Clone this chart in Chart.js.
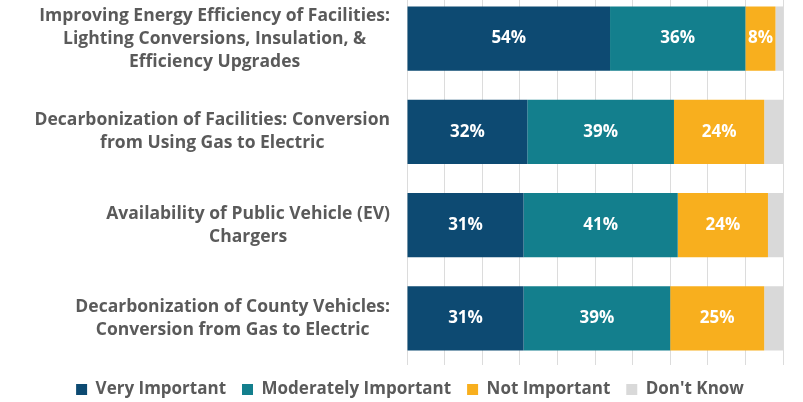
<!DOCTYPE html>
<html>
<head>
<meta charset="utf-8">
<script src="https://cdn.jsdelivr.net/npm/chart.js@4"></script>
<style>
  html, body { margin: 0; padding: 0; background: #fff; }
  #wrap { position: relative; width: 803px; height: 402px; overflow: hidden; }
  #chart { position: absolute; left: 0; top: -8px; }
</style>
</head>
<body>
<div id="wrap"><canvas id="chart" width="803" height="416"></canvas></div>
<script>
const categories = [
  ["Improving Energy Efficiency of Facilities:", "Lighting Conversions, Insulation, &", "Efficiency Upgrades"],
  ["Decarbonization of Facilities: Conversion", "from Using Gas to Electric"],
  ["Availability of Public Vehicle (EV)", "Chargers"],
  ["Decarbonization of County Vehicles:", "Conversion from Gas to Electric"]
];
const veryImportant = [54, 32, 31, 31];
const moderatelyImportant = [36, 39, 41, 39];
const notImportant = [8, 24, 24, 25];
const dontKnow = [2, 5, 4, 5];

const FONT = "'Open Sans', Lato, sans-serif";
const TEXT_GREY = "#5a5a5a";

// category labels: each block centered on itself, right edge 17px left of the plot
const categoryLabels = {
  id: "categoryLabels",
  afterDraw(chart) {
    const ctx = chart.ctx;
    const y = chart.scales.y;
    const lineH = 23;
    ctx.save();
    ctx.font = "bold 17.5px " + FONT;
    ctx.fillStyle = TEXT_GREY;
    ctx.textAlign = "center";
    ctx.textBaseline = "middle";
    categories.forEach((lines, i) => {
      const widest = Math.max(...lines.map(l => ctx.measureText(l).width));
      const cx = chart.chartArea.left - 17 - widest / 2;
      const cy = y.getPixelForValue(i);
      const top = cy - (lines.length - 1) * lineH / 2;
      lines.forEach((l, k) => ctx.fillText(l, cx, top + k * lineH));
    });
    ctx.restore();
  }
};

// white percentage labels inside the segments
const valueLabels = {
  id: "valueLabels",
  afterDatasetsDraw(chart) {
    const ctx = chart.ctx;
    ctx.save();
    ctx.font = "bold 17px " + FONT;
    ctx.fillStyle = "#ffffff";
    ctx.textAlign = "center";
    ctx.textBaseline = "middle";
    chart.data.datasets.forEach((ds, di) => {
      if (di === 3) return;
      chart.getDatasetMeta(di).data.forEach((bar, i) => {
        const p = bar.getProps(["x", "y", "base"], true);
        ctx.fillText(ds.data[i] + "%", (p.x + p.base) / 2, p.y);
      });
    });
    ctx.restore();
  }
};

new Chart(document.getElementById("chart"), {
  type: "bar",
  data: {
    labels: categories,
    datasets: [
      { label: "Very Important", data: veryImportant, backgroundColor: "#0d4a72" },
      { label: "Moderately Important", data: moderatelyImportant, backgroundColor: "#137f8d" },
      { label: "Not Important", data: notImportant, backgroundColor: "#f8af1e" },
      { label: "Don't Know", data: dontKnow, backgroundColor: "#d9d9d9" }
    ]
  },
  options: {
    indexAxis: "y",
    responsive: false,
    animation: false,
    devicePixelRatio: 1,
    layout: { padding: { left: 37, right: 20, top: 0, bottom: 0 } },
    datasets: { bar: { barPercentage: 0.69, categoryPercentage: 1 } },
    scales: {
      x: {
        stacked: true,
        min: 0,
        max: 100,
        ticks: { display: false, stepSize: 10 },
        grid: { color: "#dcdcdc", drawTicks: false },
        border: { display: false }
      },
      y: {
        stacked: true,
        ticks: { display: false },
        grid: { display: false, drawTicks: false },
        border: { display: false },
        afterFit(axis) { axis.width = 370; }
      }
    },
    plugins: {
      tooltip: { enabled: false },
      legend: {
        position: "bottom",
        labels: {
          boxWidth: 11,
          boxHeight: 11,
          padding: 16,
          color: TEXT_GREY,
          font: { family: FONT, size: 17, weight: "bold" }
        }
      }
    }
  },
  plugins: [categoryLabels, valueLabels]
});
</script>
</body>
</html>
